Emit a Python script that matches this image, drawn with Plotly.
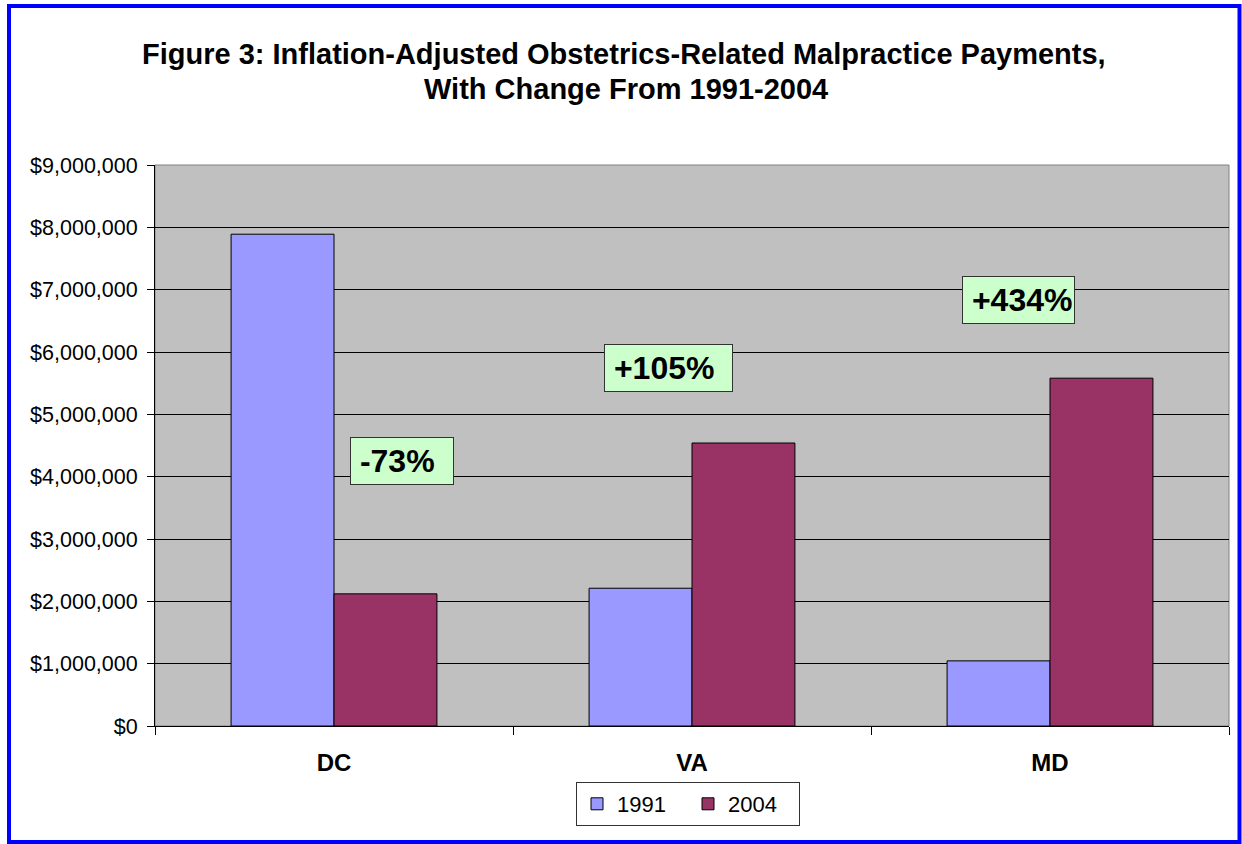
import plotly.graph_objects as go

states = ["DC", "VA", "MD"]
payments_1991 = [7890000, 2210000, 1045000]
payments_2004 = [2120000, 4540000, 5580000]
change_labels = ["-73%", "+105%", "+434%"]
y_ticks = [0, 1000000, 2000000, 3000000, 4000000, 5000000, 6000000, 7000000, 8000000, 9000000]
y_tick_labels = ["$0", "$1,000,000", "$2,000,000", "$3,000,000", "$4,000,000",
                 "$5,000,000", "$6,000,000", "$7,000,000", "$8,000,000", "$9,000,000"]
title_lines = ["Figure 3: Inflation-Adjusted Obstetrics-Related Malpractice Payments,",
               "With Change From 1991-2004"]

# label box placement (category units / dollars) and box sizes in px
label_x = [0.19, 0.934, 1.912]
label_y = [4250000, 5740000, 6840000]
label_w = [102, 127, 111]

FONT = "Liberation Sans, Arial, sans-serif"
W, H = 1242, 844
L, R, T, B = 155, 13, 165, 118
PW, PH = W - L - R, H - T - B


def px_x(p):
    return (p - L) / PW


def px_y(p):
    return (H - B - p) / PH


fig = go.Figure()
fig.add_trace(go.Bar(x=states, y=payments_1991, name="1991",
                     marker=dict(color="#9999FF", line=dict(color="#000000", width=1))))
fig.add_trace(go.Bar(x=states, y=payments_2004, name="2004",
                     marker=dict(color="#993366", line=dict(color="#000000", width=1))))

for t, x, y, w in zip(change_labels, label_x, label_y, label_w):
    fig.add_annotation(x=x, y=y, xref="x", yref="y", text="&nbsp;<b>%s</b>" % t,
                       showarrow=False, align="left", width=w, height=46,
                       font=dict(family=FONT, size=32, color="#000000"),
                       bgcolor="#CCFFCC", bordercolor="#333333", borderwidth=1, borderpad=0)

# title as two lines
fig.add_annotation(x=px_x(623.5), y=px_y(54), xref="paper", yref="paper",
                   text="<b>%s</b>" % title_lines[0], showarrow=False,
                   xanchor="center", yanchor="middle",
                   font=dict(family=FONT, size=29, color="#000000"))
fig.add_annotation(x=px_x(626), y=px_y(89), xref="paper", yref="paper",
                   text="<b>%s</b>" % title_lines[1], showarrow=False,
                   xanchor="center", yanchor="middle",
                   font=dict(family=FONT, size=29, color="#000000"))

# outer blue frame
fig.add_shape(type="rect", xref="paper", yref="paper",
              x0=px_x(9), x1=px_x(1239.5), y0=px_y(842), y1=px_y(6),
              line=dict(color="#0000FF", width=4), fillcolor="rgba(0,0,0,0)", layer="above")
# plot area border
fig.add_shape(type="rect", xref="paper", yref="paper", x0=0, x1=1, y0=0, y1=1,
              line=dict(color="#808080", width=1), fillcolor="rgba(0,0,0,0)", layer="below")

fig.update_layout(
    width=W, height=H,
    margin=dict(l=L, r=R, t=T, b=B),
    paper_bgcolor="#FFFFFF", plot_bgcolor="#C0C0C0",
    font=dict(family=FONT, color="#000000", size=21.5),
    barmode="group", bargap=0.425, bargroupgap=0,
    legend=dict(orientation="h", x=px_x(688), xanchor="center", y=px_y(782), yanchor="top",
                bgcolor="#FFFFFF", bordercolor="#333333", borderwidth=1,
                font=dict(family=FONT, size=22), itemwidth=30, tracegroupgap=0,
                entrywidth=66, entrywidthmode="pixels"),
    showlegend=True,
)
fig.update_xaxes(tickmode="array", tickvals=states, ticktext=["<b>%s</b>" % s for s in states],
                 tickfont=dict(family=FONT, size=24), ticks="outside", tickson="boundaries",
                 ticklen=8, tickcolor="#000000", showline=True, linecolor="#000000", linewidth=1,
                 showgrid=False, range=[-0.5, 2.5], ticklabelstandoff=15)
fig.update_yaxes(range=[0, 9000000], tickmode="array", tickvals=y_ticks, ticktext=y_tick_labels,
                 ticks="outside", ticklen=7, tickcolor="#000000",
                 showgrid=True, gridcolor="#000000", gridwidth=1,
                 showline=True, linecolor="#000000", linewidth=1,
                 zeroline=False, tickfont=dict(family=FONT, size=21.5), ticklabelstandoff=5)

fig.write_html("out.html", config={"displayModeBar": False},
               post_script="document.body.style.margin='0px';")
